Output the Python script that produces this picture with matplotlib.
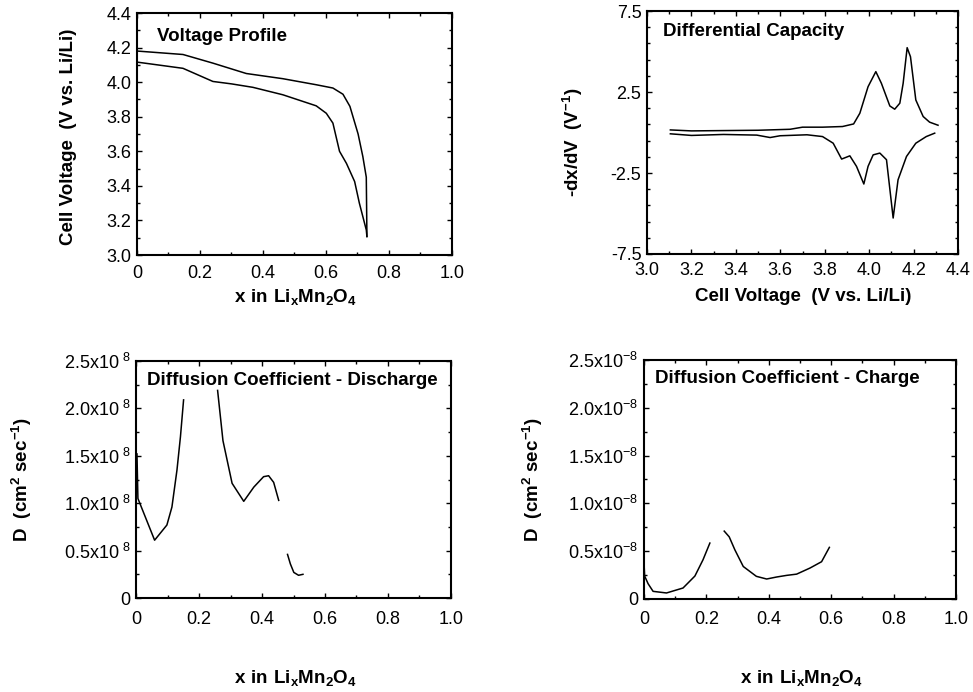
import matplotlib
matplotlib.use("Agg")
import matplotlib.pyplot as plt
import numpy as np
from matplotlib.ticker import AutoMinorLocator

plt.rcParams['font.family'] = ['Liberation Sans', 'DejaVu Sans']
plt.rcParams['mathtext.fontset'] = 'custom'
plt.rcParams['mathtext.rm'] = 'Liberation Sans'
plt.rcParams['mathtext.bf'] = 'Liberation Sans:bold'

# ---- voltage profile (x in LixMn2O4 vs cell voltage) ----
charge_x = [0, 0.146, 0.241, 0.347, 0.463, 0.569, 0.622, 0.654, 0.676, 0.702, 0.717, 0.728, 0.730]
charge_v = [4.18, 4.16, 4.11, 4.05, 4.02, 3.985, 3.966, 3.93, 3.86, 3.70, 3.57, 3.45, 3.107]
disch_x = [0, 0.146, 0.241, 0.30, 0.368, 0.463, 0.569, 0.601, 0.622, 0.643, 0.665, 0.691, 0.706, 0.728, 0.730]
disch_v = [4.116, 4.08, 4.004, 3.99, 3.97, 3.927, 3.863, 3.82, 3.763, 3.60, 3.53, 3.425, 3.30, 3.145, 3.107]

# ---- differential capacity ----
dq_up_v = [3.105, 3.20, 3.344, 3.50, 3.644, 3.70, 3.79, 3.88, 3.93, 3.958, 3.995, 4.03, 4.055,
           4.093, 4.115, 4.138, 4.153, 4.171, 4.186, 4.21, 4.243, 4.272, 4.31]
dq_up = [0.16, 0.10, 0.12, 0.14, 0.2, 0.33, 0.33, 0.37, 0.53, 1.19, 2.83, 3.76, 3.04,
         1.64, 1.44, 1.81, 3.04, 5.24, 4.68, 2.01, 0.99, 0.64, 0.45]
dq_dn_v = [3.105, 3.20, 3.344, 3.494, 3.554, 3.599, 3.72, 3.79, 3.838, 3.876, 3.913, 3.943,
           3.976, 3.995, 4.018, 4.048, 4.078, 4.108, 4.13, 4.168, 4.21, 4.257, 4.295]
dq_dn = [-0.08, -0.18, -0.12, -0.16, -0.31, -0.2, -0.14, -0.25, -0.66, -1.64, -1.44, -2.09,
         -3.18, -2.09, -1.38, -1.27, -1.68, -5.28, -2.92, -1.48, -0.66, -0.25, -0.04]

# ---- diffusion coefficient, discharge (units of 1e-8 cm2/s), nan = gap ----
dd_x = [0.003, 0.006, 0.059, 0.098, 0.114, 0.130, 0.141, 0.151, np.nan,
        0.259, 0.276, 0.305, 0.342, 0.374, 0.405, 0.421, 0.437, 0.453, np.nan,
        0.481, 0.490, 0.501, 0.516, 0.530]
dd_y = [1.52, 1.05, 0.61, 0.77, 0.96, 1.35, 1.70, 2.09, np.nan,
        2.19, 1.66, 1.21, 1.02, 1.17, 1.28, 1.29, 1.22, 1.03, np.nan,
        0.46, 0.36, 0.27, 0.24, 0.25]

# ---- diffusion coefficient, charge ----
dc_x = [0, 0.002, 0.013, 0.029, 0.072, 0.125, 0.163, 0.189, 0.211, np.nan,
        0.257, 0.273, 0.291, 0.318, 0.360, 0.393, 0.425, 0.457, 0.489, 0.532, 0.569, 0.594]
dc_y = [0.376, 0.24, 0.16, 0.08, 0.063, 0.115, 0.24, 0.41, 0.585, np.nan,
        0.71, 0.65, 0.515, 0.34, 0.237, 0.209, 0.23, 0.247, 0.26, 0.324, 0.39, 0.54]

x_ticks = [0, 0.2, 0.4, 0.6, 0.8, 1.0]
x_ticklabels = ['0', '0.2', '0.4', '0.6', '0.8', '1.0']
d_ticks = [0, 0.5, 1.0, 1.5, 2.0, 2.5]
d_labels_dis = ['0', '0.5x10$^{\\ 8}$', '1.0x10$^{\\ 8}$', '1.5x10$^{\\ 8}$', '2.0x10$^{\\ 8}$', '2.5x10$^{\\ 8}$']
d_labels_chg = ['0', '0.5x10$^{-8}$', '1.0x10$^{-8}$', '1.5x10$^{-8}$', '2.0x10$^{-8}$', '2.5x10$^{-8}$']

xlab_comp = r'$\mathbf{x\ in\ Li_xMn_2O_4}$'
tick_fs = 13
title_fs = 13.5
lab_fs = 13.5

fig = plt.figure(figsize=(9.73, 6.92), dpi=100)
ax1 = fig.add_axes([0.1408, 0.6315, 0.3237, 0.3497])
ax2 = fig.add_axes([0.665, 0.633, 0.3196, 0.351])
ax3 = fig.add_axes([0.1398, 0.1358, 0.3237, 0.3425])
ax4 = fig.add_axes([0.6619, 0.1344, 0.3207, 0.3454])

def style(ax, xpad):
    for s in ax.spines.values():
        s.set_linewidth(1.5)
    ax.xaxis.set_minor_locator(AutoMinorLocator(2))
    ax.yaxis.set_minor_locator(AutoMinorLocator(2))
    ax.tick_params(which='both', direction='in', top=True, right=True, labelsize=tick_fs, width=1)
    ax.tick_params(which='major', length=3.5)
    ax.tick_params(which='minor', length=2)
    ax.tick_params(axis='y', which='major', pad=4)
    ax.tick_params(axis='x', which='major', pad=xpad)

# voltage profile
ax1.plot(charge_x, charge_v, color='black', lw=1.1)
ax1.plot(disch_x, disch_v, color='black', lw=1.1)
ax1.set_xlim(0, 1.0)
ax1.set_ylim(3.0, 4.4)
ax1.set_xticks(x_ticks)
ax1.set_xticklabels(x_ticklabels)
ax1.set_yticks(np.arange(3.0, 4.41, 0.2))
ax1.set_yticklabels([f'{v:.1f}' for v in np.arange(3.0, 4.41, 0.2)])
style(ax1, 7)
ax1.text(0.063, 0.94, 'Voltage Profile', transform=ax1.transAxes, fontsize=title_fs,
         fontweight='bold', va='top')
ax1.set_ylabel('Cell Voltage  (V vs. Li/Li)', fontsize=lab_fs, fontweight='bold', va='center')
ax1.yaxis.set_label_coords(-0.219, 0.49)
ax1.set_xlabel(xlab_comp, fontsize=lab_fs, va='center')
ax1.xaxis.set_label_coords(0.5016, -0.174)

# differential capacity
ax2.plot(dq_up_v, dq_up, color='black', lw=1.1)
ax2.plot(dq_dn_v, dq_dn, color='black', lw=1.1)
ax2.set_xlim(3.0, 4.4)
ax2.set_ylim(-7.5, 7.5)
ax2.set_xticks(np.arange(3.0, 4.41, 0.2))
ax2.set_xticklabels([f'{v:.1f}' for v in np.arange(3.0, 4.41, 0.2)])
ax2.set_yticks([-7.5, -2.5, 2.5, 7.5])
ax2.set_yticklabels(['-7.5', '-2.5', '2.5', '7.5'])
style(ax2, 6)
ax2.yaxis.set_minor_locator(AutoMinorLocator(5))
ax2.text(0.05, 0.95, 'Differential Capacity', transform=ax2.transAxes, fontsize=title_fs,
         fontweight='bold', va='top')
ax2.set_ylabel(r'-dx/dV  (V$^{\mathbf{-1}}$)', fontsize=lab_fs, fontweight='bold', va='center')
ax2.yaxis.set_label_coords(-0.241, 0.46)
ax2.set_xlabel('Cell Voltage  (V vs. Li/Li)', fontsize=lab_fs, fontweight='bold', va='center')
ax2.xaxis.set_label_coords(0.502, -0.177)

# diffusion discharge
ax3.plot(dd_x, dd_y, color='black', lw=1.1)
ax3.set_xlim(0, 1.0)
ax3.set_ylim(0, 2.5)
ax3.set_xticks(x_ticks)
ax3.set_xticklabels(x_ticklabels)
ax3.set_yticks(d_ticks)
ax3.set_yticklabels(d_labels_dis)
style(ax3, 9)
ax3.text(0.035, 0.955, 'Diffusion Coefficient - Discharge', transform=ax3.transAxes,
         fontsize=title_fs, fontweight='bold', va='top')
ax3.set_ylabel(r'D  (cm$^{\mathbf{2}}$ sec$^{\mathbf{-1}}$)', fontsize=lab_fs, fontweight='bold', va='center')
ax3.yaxis.set_label_coords(-0.362, 0.5)
ax3.set_xlabel(xlab_comp, fontsize=lab_fs, va='center')
ax3.xaxis.set_label_coords(0.505, -0.3376)

# diffusion charge
ax4.plot(dc_x, dc_y, color='black', lw=1.1)
ax4.set_xlim(0, 1.0)
ax4.set_ylim(0, 2.5)
ax4.set_xticks(x_ticks)
ax4.set_xticklabels(x_ticklabels)
ax4.set_yticks(d_ticks)
ax4.set_yticklabels(d_labels_chg)
style(ax4, 9)
ax4.text(0.035, 0.96, 'Diffusion Coefficient - Charge', transform=ax4.transAxes,
         fontsize=title_fs, fontweight='bold', va='top')
ax4.set_ylabel(r'D  (cm$^{\mathbf{2}}$ sec$^{\mathbf{-1}}$)', fontsize=lab_fs, fontweight='bold', va='center')
ax4.yaxis.set_label_coords(-0.356, 0.5)
ax4.set_xlabel(xlab_comp, fontsize=lab_fs, va='center')
ax4.xaxis.set_label_coords(0.506, -0.3305)

fig.savefig('out.png', dpi=100)
